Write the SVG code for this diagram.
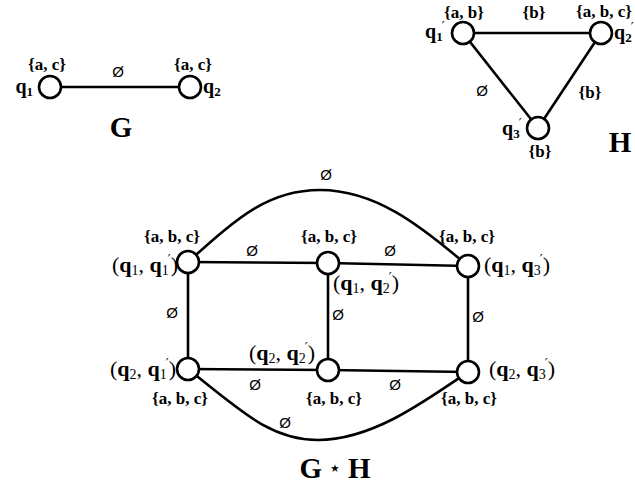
<svg xmlns="http://www.w3.org/2000/svg" width="635" height="486" viewBox="0 0 635 486">
<style>
.e{stroke:#000;stroke-width:2.6;fill:none}
.n{stroke:#000;stroke-width:2.6;fill:#fff}
.s{font-family:"Liberation Serif",serif;font-weight:bold;font-size:17px;fill:#000;text-anchor:middle}
.z{font-family:"Liberation Sans",sans-serif;font-size:15px;fill:#000;text-anchor:middle}
.q{font-family:"Liberation Serif",serif;font-weight:bold;font-size:20px;fill:#000}
.p{font-family:"Liberation Serif",serif;font-size:22px;fill:#000}
.pb{font-weight:bold}
.pr{font-family:"DejaVu Sans",sans-serif;font-size:13px;font-weight:normal}
.t{font-family:"Liberation Serif",serif;font-weight:bold;font-size:29px;fill:#000;text-anchor:middle}
</style>
<rect width="635" height="486" fill="#fff"/>
<g id="edges">
<line class="e" x1="50" y1="87" x2="190" y2="87"/>
<line class="e" x1="463" y1="33" x2="601" y2="33"/>
<line class="e" x1="463" y1="33" x2="538" y2="128"/>
<line class="e" x1="601" y1="33" x2="538" y2="128"/>
<line class="e" x1="188" y1="262" x2="328" y2="263"/>
<line class="e" x1="328" y1="263" x2="468" y2="266"/>
<line class="e" x1="188" y1="262" x2="188" y2="369"/>
<line class="e" x1="328" y1="263" x2="328" y2="370"/>
<line class="e" x1="468" y1="266" x2="468" y2="372"/>
<line class="e" x1="188" y1="369" x2="328" y2="370"/>
<line class="e" x1="328" y1="370" x2="468" y2="372"/>
<path class="e" d="M188,262 C240,215 270,190 320,190 C375,190 420,225 468,266"/>
<path class="e" d="M188,369 C240,410 270,440 318,440 C370,440 420,405 468,372"/>
</g>
<g id="edge-labels">
<text class="z" x="118" y="77">Ø</text>
<text class="s" x="534" y="18">{b}</text>
<text class="z" x="482" y="96">Ø</text>
<text class="s" x="590" y="98">{b}</text>
<text class="z" x="326" y="180">Ø</text>
<text class="z" x="252" y="256">Ø</text>
<text class="z" x="390" y="256">Ø</text>
<text class="z" x="172" y="318">Ø</text>
<text class="z" x="338" y="320">Ø</text>
<text class="z" x="478" y="322">Ø</text>
<text class="z" x="255" y="390">Ø</text>
<text class="z" x="395" y="390">Ø</text>
<text class="z" x="285" y="428">Ø</text>
</g>
<g id="G-q1"><circle class="n" cx="50" cy="87" r="11"/>
<text class="s" x="47" y="70">{a, c}</text>
<text class="q" x="33" y="93" text-anchor="end">q<tspan font-size="13" dy="3">1</tspan></text></g>
<g id="G-q2"><circle class="n" cx="190" cy="87" r="11"/>
<text class="s" x="193" y="70">{a, c}</text>
<text class="q" x="203" y="93">q<tspan font-size="13" dy="3">2</tspan></text></g>
<text class="t" x="121" y="137">G</text>
<g id="H-q1"><circle class="n" cx="463" cy="33" r="11"/>
<text class="s" x="464" y="18">{a, b}</text>
<text class="q" x="425" y="38">q<tspan font-size="13" dy="3">1</tspan><tspan class="pr" dx="-1" dy="-11">′</tspan></text></g>
<g id="H-q2"><circle class="n" cx="601" cy="33" r="11"/>
<text class="s" x="604" y="17">{a, b, c}</text>
<text class="q" x="614" y="39">q<tspan font-size="13" dy="3">2</tspan><tspan class="pr" dx="-1" dy="-11">′</tspan></text></g>
<g id="H-q3"><circle class="n" cx="538" cy="128" r="11"/>
<text class="s" x="540" y="157">{b}</text>
<text class="q" x="502" y="135">q<tspan font-size="13" dy="3">3</tspan><tspan class="pr" dx="-1" dy="-11">′</tspan></text></g>
<text class="t" x="620" y="152">H</text>
<g id="n-q1q1"><circle class="n" cx="188" cy="262" r="11"/>
<text class="s" x="172" y="242">{a, b, c}</text>
<text class="p" x="112" y="272">(<tspan class="pb">q</tspan><tspan font-size="14" dy="3">1</tspan><tspan dy="-3">, </tspan><tspan class="pb">q</tspan><tspan font-size="14" dy="3">1</tspan><tspan class="pr" dx="-1" dy="-12">′</tspan><tspan dy="9">)</tspan></text></g>
<g id="n-q1q2"><circle class="n" cx="328" cy="263" r="11"/>
<text class="s" x="329" y="242">{a, b, c}</text>
<text class="p" x="333" y="290">(<tspan class="pb">q</tspan><tspan font-size="14" dy="3">1</tspan><tspan dy="-3">, </tspan><tspan class="pb">q</tspan><tspan font-size="14" dy="3">2</tspan><tspan class="pr" dx="-1" dy="-12">′</tspan><tspan dy="9">)</tspan></text></g>
<g id="n-q1q3"><circle class="n" cx="468" cy="266" r="11"/>
<text class="s" x="467" y="242">{a, b, c}</text>
<text class="p" x="484" y="272">(<tspan class="pb">q</tspan><tspan font-size="14" dy="3">1</tspan><tspan dy="-3">, </tspan><tspan class="pb">q</tspan><tspan font-size="14" dy="3">3</tspan><tspan class="pr" dx="-1" dy="-12">′</tspan><tspan dy="9">)</tspan></text></g>
<g id="n-q2q1"><circle class="n" cx="188" cy="369" r="11"/>
<text class="s" x="180" y="404">{a, b, c}</text>
<text class="p" x="110" y="376">(<tspan class="pb">q</tspan><tspan font-size="14" dy="3">2</tspan><tspan dy="-3">, </tspan><tspan class="pb">q</tspan><tspan font-size="14" dy="3">1</tspan><tspan class="pr" dx="-1" dy="-12">′</tspan><tspan dy="9">)</tspan></text></g>
<g id="n-q2q2"><circle class="n" cx="328" cy="370" r="11"/>
<text class="s" x="334" y="404">{a, b, c}</text>
<text class="p" x="249" y="360">(<tspan class="pb">q</tspan><tspan font-size="14" dy="3">2</tspan><tspan dy="-3">, </tspan><tspan class="pb">q</tspan><tspan font-size="14" dy="3">2</tspan><tspan class="pr" dx="-1" dy="-12">′</tspan><tspan dy="9">)</tspan></text></g>
<g id="n-q2q3"><circle class="n" cx="468" cy="372" r="11"/>
<text class="s" x="469" y="404">{a, b, c}</text>
<text class="p" x="489" y="376">(<tspan class="pb">q</tspan><tspan font-size="14" dy="3">2</tspan><tspan dy="-3">, </tspan><tspan class="pb">q</tspan><tspan font-size="14" dy="3">3</tspan><tspan class="pr" dx="-1" dy="-12">′</tspan><tspan dy="9">)</tspan></text></g>
<text class="t" x="335" y="478">G <tspan font-family="DejaVu Sans" font-size="18" dy="-4">⋆</tspan><tspan dy="4"> H</tspan></text>
</svg>
